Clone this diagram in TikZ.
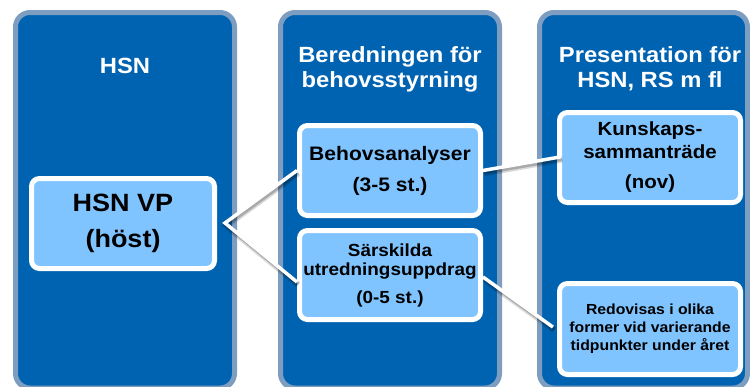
\documentclass[tikz,border=0pt]{standalone}
\usepackage{fontspec}
\setmainfont{Liberation Sans}[FakeStretch=1.08]
\definecolor{colfill}{RGB}{0,99,177}
\definecolor{colborder}{RGB}{125,157,193}
\definecolor{boxfill}{RGB}{128,196,255}
\tikzset{
  column/.style={draw=colborder, fill=colfill, line width=5pt, rounded corners=14.5pt, inner sep=0pt},
  coltitle/.style={text=white, font=\bfseries\fontsize{22}{25}\selectfont, align=center, inner sep=0pt},
  ibox/.style={draw=white, fill=boxfill, line width=5pt, rounded corners=8pt, inner sep=0pt, align=center, text=black, minimum width=181pt, minimum height=90pt},
  conn/.style={draw=white, line width=3.5pt,
    preaction={draw=black, draw opacity=0.15, line width=6pt, transform canvas={xshift=1.2pt, yshift=-2.8pt}},
    preaction={draw=black, draw opacity=0.22, line width=3.5pt, transform canvas={xshift=1.2pt, yshift=-2.4pt}}}
}
\begin{document}
\begin{tikzpicture}[x=1pt,y=-1pt]
\useasboundingbox (0,0) rectangle (750,386);
\clip (0,0) rectangle (750,386);
% columns
\node[column, minimum width=219pt, minimum height=375.5pt] (col1) at (125,200.25) {};
\node[column, minimum width=219pt, minimum height=375.5pt] (col2) at (390,200.25) {};
\node[column, minimum width=208pt, minimum height=375.5pt] (col3) at (643.5,200.25) {};
% titles
\node[coltitle] (t1) at (125,66) {HSN};
\node[coltitle] (t2) at (390,69.8) {Beredningen för\\behovsstyrning};
\node[coltitle] (t3) at (650,69.2) {Presentation för\\HSN, RS m fl};
% inner boxes
\node[ibox, minimum width=183pt, font=\bfseries\fontsize{25}{36}\selectfont] (vp) at (123,223.5) {HSN VP\\(höst)};
\node[ibox, font=\bfseries\fontsize{19.5}{31}\selectfont] (behov) at (390,170.5) {Behovsanalyser\\(3-5 st.)};
\node[ibox, minimum height=89pt, font=\bfseries\fontsize{17.5}{19}\selectfont] (sar) at (390,275) {Särskilda\\utredningsuppdrag\\[9pt](0-5 st.)};
\node[ibox, font=\bfseries\fontsize{19}{23}\selectfont] (kun) at (650,157.5) {Kunskaps-\\sammanträde\\[7pt](nov)};
\node[ibox, minimum height=91pt, font=\bfseries\fontsize{14.6}{18}\selectfont] (red) at (650,329) {Redovisas i olika\\former vid varierande\\tidpunkter under året};
% connectors
\coordinate (apex) at (225,223);
\draw[conn, miter limit=10] (behov.west) -- (apex) -- ([yshift=-7pt]sar.west);
\draw[conn, shorten >=-4pt] (behov.east) -- (kun.west);
\draw[conn, shorten >=5pt] ([yshift=-2pt]sar.east) -- ([yshift=-1pt]red.west);
\end{tikzpicture}
\end{document}
